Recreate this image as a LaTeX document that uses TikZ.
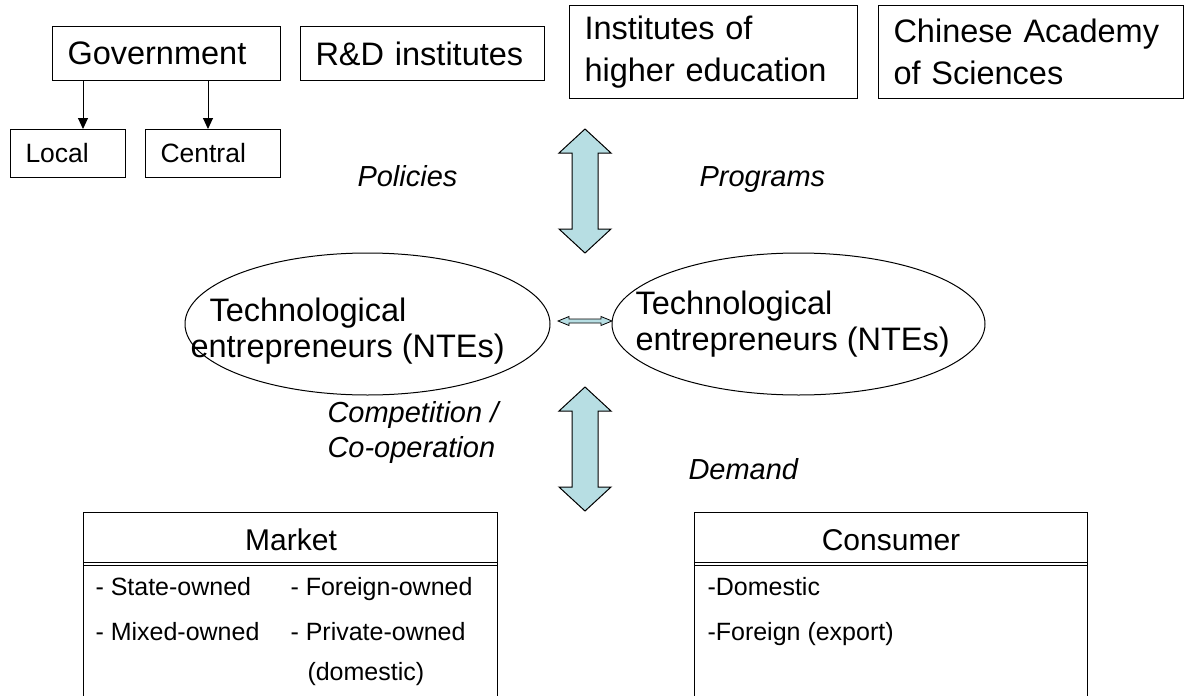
\documentclass[tikz,border=0pt]{standalone}
\usepackage{fontspec}
\setmainfont{Liberation Sans}
\usetikzlibrary{shapes.geometric,arrows.meta}

\definecolor{arrowblue}{RGB}{183,222,227}

\begin{document}
\begin{tikzpicture}[x=1pt, y=-1pt, line width=1pt, >={Triangle[length=11pt,width=10pt]},
    box/.style={draw, anchor=north west, inner xsep=15pt, inner ysep=0pt, align=left,
        font=\fontsize{32.5}{42}\selectfont},
    smallbox/.style={box, font=\fontsize{26.5}{32}\selectfont},
    blob/.style={draw, ellipse, minimum height=142pt, inner sep=0pt},
    ent/.style={anchor=base west, inner sep=0pt, font=\fontsize{32.5}{36}\selectfont},
    lbl/.style={anchor=base west, inner sep=0pt, align=left, font=\fontsize{29}{35}\selectfont\itshape},
    title/.style={anchor=base, inner sep=0pt, font=\fontsize{30}{36}\selectfont},
    item/.style={anchor=base west, inner sep=0pt, font=\fontsize{25}{30}\selectfont},
    pics/updown/.style={code={
        \draw[fill=arrowblue] (0,0) -- (26,24) -- (13,24) -- (13,100) -- (26,100) -- (0,124)
            -- (-26,100) -- (-13,100) -- (-13,24) -- (-26,24) -- cycle;}}]

    \useasboundingbox (0,0) rectangle (1186,696);
    \clip (0,0) rectangle (1186,696);

    % top row
    \node[box, text width=198pt, minimum height=54pt] (gov) at (52,26) {Government};
    \node[box, text width=214pt, minimum height=54pt] (rnd) at (300,26) {R\&D institutes};
    \node[box, text width=258pt, minimum height=93pt] (inst) at (569,5) {Institutes of\\higher education};
    \node[box, text width=275pt, minimum height=93pt] (cas) at (878,5) {Chinese Academy\\of Sciences};
    \node[smallbox, text width=85pt, minimum height=48pt] (local) at (10,129) {Local};
    \node[smallbox, text width=105pt, minimum height=48pt] (central) at (145,129) {Central};

    \draw[->] ([xshift=31pt]gov.south west) -- ([xshift=31pt]gov.south west |- local.north);
    \draw[->] ([xshift=-73pt]gov.south east) -- ([xshift=-73pt]gov.south east |- central.north);

    % links up and down
    \pic (up) at (585,129) {updown};
    \pic (down) at (585,387) {updown};
    \node[lbl] (pol) at (357,186) {Policies};
    \node[lbl] (prog) at (699,186) {Programs};
    \node[lbl] (comp) at (327,457) {Competition /\\Co-operation};
    \node[lbl] (dem) at (688,479) {Demand};

    % the two NTEs
    \node[blob, minimum width=365pt] (lt) at (367.5,324) {};
    \node[blob, minimum width=373pt] (rt) at (798.5,324) {};
    \node[ent] (lt1) at (209,321) {Technological};
    \node[ent] (lt2) at (190,357) {entrepreneurs (NTEs)};
    \node[ent] (rt1) at (635,314) {Technological};
    \node[ent] (rt2) at (635,350) {entrepreneurs (NTEs)};
    \draw[line width=0.8pt, fill=arrowblue] (558,321) -- (569,316.5) -- (569,319) -- (601,319)
        -- (601,316.5) -- (612,321) -- (601,325.5) -- (601,323) -- (569,323) -- (569,325.5) -- cycle;

    % market and consumer
    \node[draw, anchor=north west, minimum width=414pt, minimum height=200pt, inner sep=0pt] (market) at (83,512) {};
    \node[draw, anchor=north west, minimum width=393pt, minimum height=200pt, inner sep=0pt] (cons) at (694,512) {};
    \draw (83,562) -- (497,562) (83,565) -- (497,565);
    \draw (694,562) -- (1087,562) (694,565) -- (1087,565);
    \node[title] (mkt) at (291,550) {Market};
    \node[title] (con) at (891,550) {Consumer};

    \node[item] (m1) at (95,595) {- State-owned};
    \node[item] (m2) at (290,595) {- Foreign-owned};
    \node[item] (m3) at (95,640) {- Mixed-owned};
    \node[item] (m4) at (290,640) {- Private-owned};
    \node[item] (m5) at (307,680) {(domestic)};
    \node[item] (c1) at (707,595) {-Domestic};
    \node[item] (c2) at (707,640) {-Foreign (export)};

\end{tikzpicture}
\end{document}
